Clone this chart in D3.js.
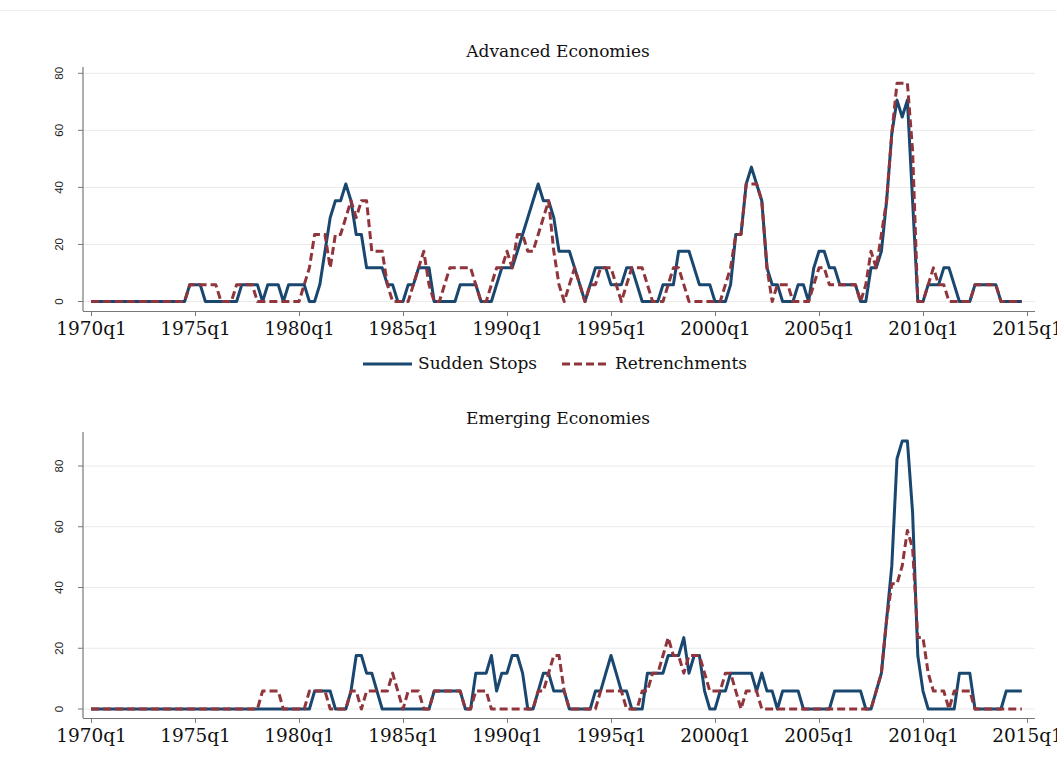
<!DOCTYPE html>
<html><head><meta charset="utf-8">
<script src="https://cdn.jsdelivr.net/npm/d3@7"></script>
<style>
body{margin:0;background:#fff;}
svg text{font-family:"DejaVu Serif",serif;}
</style></head>
<body><svg id="c" width="1057" height="771"></svg>
<script>
const periodLabels = ["1970q1","1975q1","1980q1","1985q1","1990q1","1995q1","2000q1","2005q1","2010q1","2015q1"];
const yTicks = [0,20,40,60,80];
const titles = ["Advanced Economies","Emerging Economies"];
const seriesNames = ["Sudden Stops","Retrenchments"];

const advSudden = [
0,0,0,0,0,0,0,0,0,0,0,0,0,0,0,0,0,0,0,5.9,
5.9,5.9,0,0,0,0,0,0,0,5.9,5.9,5.9,5.9,0,5.9,5.9,5.9,0,5.9,5.9,
5.9,5.9,0,0,5.9,17.6,29.4,35.3,35.3,41.2,35.3,23.5,23.5,11.8,11.8,11.8,11.8,5.9,5.9,0,
0,5.9,5.9,11.8,11.8,11.8,0,0,0,0,0,5.9,5.9,5.9,5.9,0,0,0,5.9,11.8,
11.8,11.8,17.6,23.5,29.4,35.3,41.2,35.3,35.3,29.4,17.6,17.6,17.6,11.8,5.9,0,5.9,11.8,11.8,11.8,
5.9,5.9,5.9,11.8,11.8,5.9,0,0,0,0,5.9,5.9,5.9,17.6,17.6,17.6,11.8,5.9,5.9,5.9,
0,0,0,5.9,23.5,23.5,41.2,47.1,41.2,35.3,11.8,5.9,5.9,0,0,0,5.9,5.9,0,11.8,
17.6,17.6,11.8,11.8,5.9,5.9,5.9,5.9,0,0,11.8,11.8,17.6,35.3,58.8,70.6,64.7,70.6,35.3,0,
0,5.9,5.9,5.9,11.8,11.8,5.9,0,0,0,5.9,5.9,5.9,5.9,5.9,0,0,0,0,0];

const advRetrench = [
0,0,0,0,0,0,0,0,0,0,0,0,0,0,0,0,0,0,0,5.9,
5.9,5.9,5.9,5.9,5.9,0,0,0,5.9,5.9,5.9,5.9,0,0,0,0,0,0,0,0,
0,5.9,11.8,23.5,23.5,23.5,11.8,23.5,23.5,29.4,35.3,29.4,35.3,35.3,17.6,17.6,17.6,5.9,0,0,
0,0,5.9,11.8,17.6,5.9,0,0,5.9,11.8,11.8,11.8,11.8,11.8,5.9,0,0,5.9,11.8,11.8,
17.6,11.8,23.5,23.5,17.6,17.6,23.5,29.4,35.3,17.6,5.9,0,5.9,11.8,5.9,0,5.9,5.9,11.8,11.8,
11.8,5.9,0,5.9,11.8,11.8,11.8,5.9,0,0,0,5.9,11.8,11.8,5.9,0,0,0,0,0,
0,0,5.9,11.8,23.5,23.5,41.2,41.2,41.2,35.3,11.8,0,5.9,5.9,5.9,0,0,0,0,5.9,
11.8,11.8,5.9,5.9,5.9,5.9,5.9,5.9,0,5.9,17.6,11.8,23.5,35.3,58.8,76.5,76.5,76.5,52.9,0,
0,5.9,11.8,5.9,5.9,0,0,0,0,0,5.9,5.9,5.9,5.9,5.9,0,0,0,0,0];

const emeSudden = [
0,0,0,0,0,0,0,0,0,0,0,0,0,0,0,0,0,0,0,0,
0,0,0,0,0,0,0,0,0,0,0,0,0,0,0,0,0,0,0,0,
0,0,0,5.9,5.9,5.9,5.9,0,0,0,5.9,17.6,17.6,11.8,11.8,5.9,0,0,0,0,
0,0,0,0,0,0,5.9,5.9,5.9,5.9,5.9,5.9,0,0,11.8,11.8,11.8,17.6,5.9,11.8,
11.8,17.6,17.6,11.8,0,0,5.9,11.8,11.8,5.9,5.9,5.9,0,0,0,0,0,5.9,5.9,11.8,
17.6,11.8,5.9,5.9,0,0,0,11.8,11.8,11.8,11.8,17.6,17.6,17.6,23.5,11.8,17.6,17.6,5.9,0,
0,5.9,5.9,11.8,11.8,11.8,11.8,11.8,5.9,11.8,5.9,5.9,0,5.9,5.9,5.9,5.9,0,0,0,
0,0,0,5.9,5.9,5.9,5.9,5.9,5.9,0,0,5.9,11.8,29.4,47.1,82.4,88.2,88.2,64.7,17.6,
5.9,0,0,0,0,0,0,11.8,11.8,11.8,0,0,0,0,0,0,5.9,5.9,5.9,5.9];

const emeRetrench = [
0,0,0,0,0,0,0,0,0,0,0,0,0,0,0,0,0,0,0,0,
0,0,0,0,0,0,0,0,0,0,0,0,0,5.9,5.9,5.9,5.9,0,0,0,
0,0,5.9,5.9,5.9,5.9,0,0,0,0,5.9,5.9,0,5.9,5.9,5.9,5.9,5.9,11.8,5.9,
0,5.9,5.9,5.9,0,0,5.9,5.9,5.9,5.9,5.9,5.9,0,0,5.9,5.9,5.9,0,0,0,
0,0,0,0,0,0,5.9,5.9,11.8,17.6,17.6,5.9,0,0,0,0,0,0,5.9,5.9,
5.9,5.9,5.9,0,0,0,5.9,5.9,11.8,11.8,17.6,23.5,17.6,17.6,11.8,17.6,17.6,17.6,11.8,5.9,
5.9,5.9,11.8,11.8,5.9,0,5.9,5.9,5.9,0,0,0,0,0,0,0,0,0,0,0,
0,0,0,0,0,0,0,0,0,0,0,5.9,11.8,29.4,41.2,41.2,47.1,58.8,52.9,23.5,
23.5,11.8,5.9,5.9,5.9,0,5.9,5.9,5.9,5.9,0,0,0,0,0,0,0,0,0,0];

const svg = d3.select("#c");
const colors = ["#1a476f","#90353b"];
const x = d3.scaleLinear().domain([0,180]).range([91,1027]);

svg.append("line").attr("x1",0).attr("x2",1057).attr("y1",10.5).attr("y2",10.5).attr("stroke","#eeeeee");

const panels = [
  {title:titles[0], data:[advSudden,advRetrench], y:d3.scaleLinear().domain([0,80]).range([301.5,73.3]), top:67, bottom:311, titleY:52},
  {title:titles[1], data:[emeSudden,emeRetrench], y:d3.scaleLinear().domain([0,80]).range([709,466]), top:432, bottom:718, titleY:419}
];

panels.forEach(p=>{
  const g = svg.append("g");
  g.selectAll("line.grid").data(yTicks).enter().append("line")
    .attr("x1",83).attr("x2",1035).attr("y1",d=>p.y(d)).attr("y2",d=>p.y(d))
    .attr("stroke","#eaeaea").attr("stroke-width",1);
  p.data.forEach((arr,si)=>{
    const line = d3.line().x((d,i)=>x(i)).y(d=>p.y(d));
    g.append("path").datum(arr).attr("d",line).attr("fill","none")
      .attr("stroke",colors[si]).attr("stroke-width",3)
      .attr("stroke-linejoin","round")
      .attr("stroke-dasharray", si===1 ? "8,4" : null);
  });
  g.append("line").attr("x1",83).attr("x2",83).attr("y1",p.top).attr("y2",p.bottom).attr("stroke","#777").attr("stroke-width",1.2);
  g.selectAll("line.yt").data(yTicks).enter().append("line")
    .attr("x1",78).attr("x2",83).attr("y1",d=>p.y(d)).attr("y2",d=>p.y(d)).attr("stroke","#777");
  g.selectAll("text.yl").data(yTicks).enter().append("text")
    .attr("transform",d=>`translate(63,${p.y(d)}) rotate(-90)`)
    .attr("text-anchor","middle").attr("font-size",11.5).attr("fill","#222")
    .style("font-family","'Liberation Sans',Arial,sans-serif")
    .text(d=>d);
  const xa = d3.axisBottom(x).tickValues(d3.range(0,181,20)).tickFormat((d,i)=>periodLabels[i]).tickSize(5).tickSizeOuter(0);
  const ax = g.append("g").attr("transform",`translate(0,${p.bottom})`).call(xa);
  ax.select(".domain").attr("d",`M83,0.5H1035`).attr("stroke","#777").attr("stroke-width",1.2);
  ax.selectAll(".tick line").attr("stroke","#777");
  ax.selectAll(".tick text").attr("font-size",18.5).attr("fill","#111").attr("dy","0.85em")
    .style("font-family","'DejaVu Serif',serif");
  g.append("text").attr("x",558).attr("y",p.titleY).attr("text-anchor","middle")
    .attr("dominant-baseline","middle").attr("font-size",17).attr("fill","#111").text(p.title);
});

const leg = [{x1:363,x2:412,tx:418},{x1:562,x2:610,tx:615}];
leg.forEach((l,i)=>{
  svg.append("line").attr("x1",l.x1).attr("x2",l.x2).attr("y1",364).attr("y2",364)
    .attr("stroke",colors[i]).attr("stroke-width",3).attr("stroke-dasharray",i===1?"8,4":null);
  svg.append("text").attr("x",l.tx).attr("y",364).attr("dominant-baseline","middle")
    .attr("font-size",17).attr("fill","#111").text(seriesNames[i]);
});
</script></body></html>
